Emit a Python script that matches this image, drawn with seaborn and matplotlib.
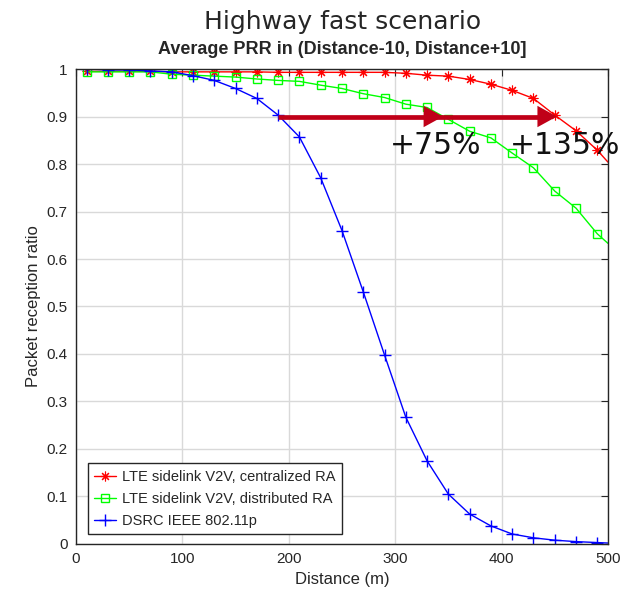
import numpy as np
import pandas as pd
import matplotlib
matplotlib.use("Agg")
import matplotlib.pyplot as plt
import seaborn as sns

# distances (m): markers every 20 m, last point at 500 closes the line
distance = [10, 30, 50, 70, 90, 110, 130, 150, 170, 190, 210, 230, 250,
            270, 290, 310, 330, 350, 370, 390, 410, 430, 450, 470, 490, 500]

prr_centralized = [0.995, 0.995, 0.995, 0.995, 0.994, 0.994, 0.994, 0.994, 0.994,
                   0.993, 0.993, 0.993, 0.993, 0.993, 0.993, 0.991, 0.987, 0.985,
                   0.978, 0.968, 0.955, 0.938, 0.903, 0.870, 0.829, 0.804]
prr_distributed = [0.994, 0.994, 0.994, 0.994, 0.989, 0.987, 0.985, 0.983, 0.979,
                   0.976, 0.974, 0.966, 0.959, 0.948, 0.940, 0.926, 0.919, 0.894,
                   0.869, 0.855, 0.823, 0.792, 0.743, 0.707, 0.653, 0.633]
prr_dsrc = [1.0, 0.998, 0.998, 0.996, 0.994, 0.986, 0.976, 0.959, 0.938, 0.903,
            0.857, 0.771, 0.660, 0.531, 0.398, 0.267, 0.175, 0.105, 0.063, 0.038,
            0.021, 0.013, 0.008, 0.005, 0.003, 0.002]

series_names = ["LTE sidelink V2V, centralized RA",
                "LTE sidelink V2V, distributed RA",
                "DSRC IEEE 802.11p"]
x_ticks = [0, 100, 200, 300, 400, 500]
y_ticks = [0, 0.1, 0.2, 0.3, 0.4, 0.5, 0.6, 0.7, 0.8, 0.9, 1]

# gain arrow: start, first head, second head, level
arrow_x = [190, 345, 452]
arrow_y = 0.9
gain_labels = ["+75%", "+135%"]
gain_pos = [(295, 0.84), (408, 0.84)]

df = pd.DataFrame({
    "Distance": distance * 3,
    "PRR": prr_centralized + prr_distributed + prr_dsrc,
    "Series": sum([[n] * len(distance) for n in series_names], []),
})

sns.set_style("whitegrid")
plt.rcParams["font.family"] = ["Liberation Sans", "DejaVu Sans"]

fig = plt.figure(figsize=(6.3, 5.97), dpi=100)
ax = fig.add_axes([0.1206, 0.0888, 0.8444, 0.7956])

styles = {
    series_names[0]: dict(color="#FF0000", marker=(8, 2, 0), markersize=7, mfc="none", mew=0.8),
    series_names[1]: dict(color="#00FF00", marker="s", markersize=5.5, mfc="none", mew=1.0),
    series_names[2]: dict(color="#0000FF", marker="+", markersize=8, mew=1.0),
}
for name in series_names:
    sub = df[df["Series"] == name]
    st = styles[name]
    sns.lineplot(data=sub, x="Distance", y="PRR", ax=ax, label=name,
                 color=st["color"], marker=st["marker"], markersize=st["markersize"],
                 markerfacecolor=st.get("mfc", st["color"]), markeredgecolor=st["color"],
                 markeredgewidth=st["mew"], linewidth=1.0, markevery=slice(0, 25),
                 clip_on=True)

arrow_color = "#C00018"
ax.plot([arrow_x[0], arrow_x[2] - 8], [arrow_y, arrow_y], color=arrow_color,
        linewidth=3.4, solid_capstyle="butt", zorder=5)
for tip in arrow_x[1:]:
    ax.annotate("", xy=(tip, arrow_y), xytext=(tip - 16, arrow_y),
                arrowprops=dict(arrowstyle="-|>,head_length=1.0,head_width=0.55",
                                color=arrow_color, lw=0, mutation_scale=14,
                                shrinkA=0, shrinkB=0),
                zorder=6)
for lbl, (tx, ty) in zip(gain_labels, gain_pos):
    ax.text(tx, ty, lbl, fontsize=21.5, family="DejaVu Sans", va="center", ha="left",
            color="#111111", clip_on=False, zorder=7)

ax.set_xlim(0, 500)
ax.set_ylim(0, 1)
ax.set_xticks(x_ticks)
ax.set_yticks(y_ticks)
ax.set_yticklabels([f"{v:g}" for v in y_ticks])
ax.tick_params(direction="in", length=5, width=0.8, top=True, right=True,
               labelsize=11, colors="#262626", pad=6)
ax.grid(True, color="#D9D9D9", linewidth=1.0)
for sp in ax.spines.values():
    sp.set_color("#262626")
    sp.set_linewidth(1.0)

ax.set_xlabel("Distance (m)", fontsize=12, color="#262626")
ax.set_ylabel("Packet reception ratio", fontsize=12, color="#262626")
ax.set_title("Average PRR in (Distance-10, Distance+10]", fontsize=13,
             fontweight="bold", pad=11)
fig.text(0.543, 0.963, "Highway fast scenario", fontsize=18, family="DejaVu Sans",
         ha="center", va="center")

leg = ax.legend(loc="lower left", fontsize=10.5, frameon=True, fancybox=False,
                borderpad=0.45, labelspacing=0.55, handlelength=1.5, handletextpad=0.4,
                bbox_to_anchor=(0.008, 0.005))
leg.get_frame().set_edgecolor("#262626")
leg.get_frame().set_linewidth(1.0)
leg.get_frame().set_alpha(1)

fig.savefig("out.png", dpi=100)
